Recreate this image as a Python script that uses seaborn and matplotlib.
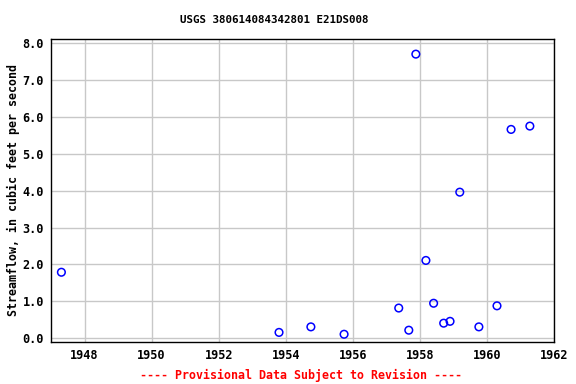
import numpy as np
import pandas as pd
import seaborn as sns
import matplotlib.pyplot as plt

# measurement dates (decimal years) and streamflow values
years = [1947.31, 1953.80, 1954.75, 1955.74, 1957.37, 1957.67, 1957.88, 1958.18,
         1958.41, 1958.71, 1958.90, 1959.19, 1959.76, 1960.30, 1960.72, 1961.28]
flow = [1.79, 0.16, 0.31, 0.11, 0.82, 0.22, 7.70, 2.11,
        0.95, 0.41, 0.46, 3.96, 0.31, 0.88, 5.66, 5.75]
x_ticks = [1948, 1950, 1952, 1954, 1956, 1958, 1960, 1962]
y_ticks = [0, 1, 2, 3, 4, 5, 6, 7, 8]

df = pd.DataFrame({"year": years, "flow": flow})

sns.set_style("whitegrid")
plt.rcParams['font.family'] = ['DejaVu Sans Mono']
plt.rcParams['font.weight'] = 'bold'
plt.rcParams['text.color'] = 'black'
plt.rcParams['xtick.color'] = 'black'
plt.rcParams['ytick.color'] = 'black'
plt.rcParams['axes.labelcolor'] = 'black'

fig = plt.figure(figsize=(5.76, 3.84), dpi=100)
ax = fig.add_axes([51 / 576, 1 - 342 / 384, (554 - 51) / 576, (342 - 39) / 384])

sns.scatterplot(data=df, x="year", y="flow", ax=ax, marker="o", s=30,
                facecolor="none", edgecolor="blue", linewidth=1.1, zorder=3)

ax.set_xlim(1947, 1962)
ax.set_ylim(-0.1, 8.11)
ax.set_xticks(x_ticks)
ax.set_yticks(y_ticks)
ax.set_yticklabels([f"{v:.1f}" for v in y_ticks])
ax.grid(True, color="#c8c8c8", linewidth=1)
for s in ax.spines.values():
    s.set_color("black")
    s.set_linewidth(1)
ax.tick_params(labelsize=8.6, length=0, pad=5)
for lbl in ax.get_xticklabels() + ax.get_yticklabels():
    lbl.set_fontweight("bold")

ax.set_xlabel("")
ax.set_ylabel("Streamflow, in cubic feet per second", fontsize=8.4,
              fontweight="bold", labelpad=2)

fig.text(274 / 576, 1 - 20 / 384, "USGS 380614084342801 E21DS008",
         fontsize=7.8, fontweight="bold", ha="center", va="center")
fig.text(301 / 576, 1 - 375 / 384, "---- Provisional Data Subject to Revision ----",
         color="red", fontsize=8.4, fontweight="bold", ha="center", va="center")

fig.savefig("out.png", dpi=100)
